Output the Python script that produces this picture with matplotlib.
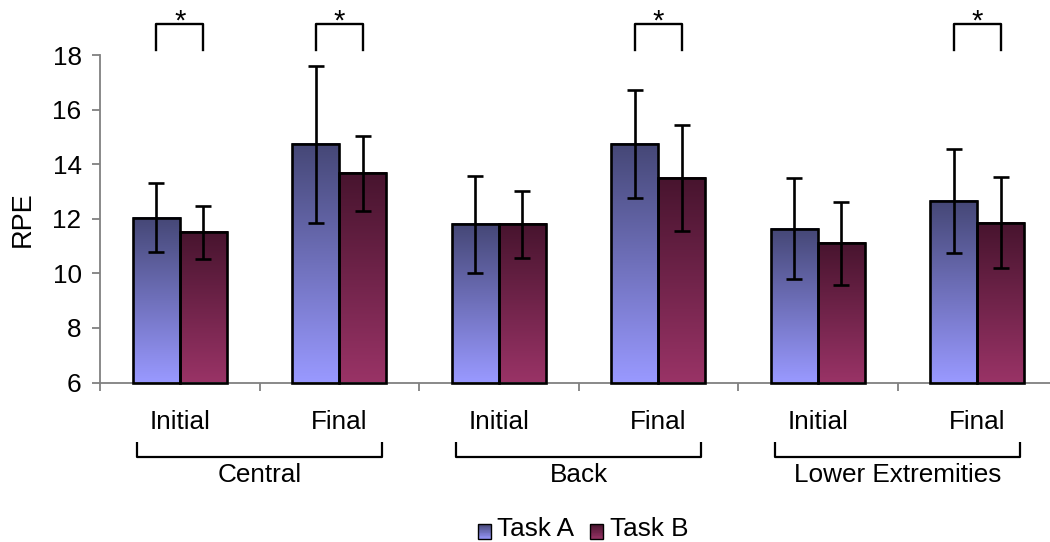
import numpy as np
import matplotlib
matplotlib.use("Agg")
import matplotlib.pyplot as plt
from matplotlib.patches import Rectangle
from matplotlib.legend_handler import HandlerBase
from matplotlib.colors import to_rgb

# ---- data -------------------------------------------------------------
regions = ["Central", "Back", "Lower Extremities"]
phases = ["Initial", "Final", "Initial", "Final", "Initial", "Final"]
series_names = ["Task A", "Task B"]
task_a = [12.04, 14.73, 11.79, 14.74, 11.64, 12.65]
task_a_err = [1.27, 2.88, 1.78, 1.97, 1.86, 1.89]
task_b = [11.50, 13.66, 11.79, 13.50, 11.11, 11.86]
task_b_err = [0.96, 1.36, 1.23, 1.94, 1.52, 1.66]
significant = [True, True, False, True, False, True]
yticks = [6, 8, 10, 12, 14, 16, 18]

# ---- style ------------------------------------------------------------
plt.rcParams['font.family'] = ['Liberation Sans', 'DejaVu Sans']
FS = 18.8
AXIS_GRAY = '#808080'
grad_colors = {"Task A": ("#454776", "#9999ff"),   # (top, bottom)
               "Task B": ("#47142e", "#993366")}


def gradient(top, bottom, n=256):
    t = np.linspace(0, 1, n)[:, None]
    c0 = np.array(to_rgb(bottom))
    c1 = np.array(to_rgb(top))
    return (c0 + (c1 - c0) * t)[:, None, :]


class GradientHandler(HandlerBase):
    def __init__(self, top, bottom, n=20):
        super().__init__()
        self.top, self.bottom, self.n = top, bottom, n

    def create_artists(self, legend, orig_handle, xdescent, ydescent,
                       width, height, fontsize, trans):
        c_top = np.array(to_rgb(self.top))
        c_bot = np.array(to_rgb(self.bottom))
        y0 = -ydescent - 0.35 * height
        arts = []
        for k in range(self.n):
            t = (k + 0.5) / self.n
            arts.append(Rectangle((-xdescent, y0 + height * k / self.n), width,
                                  height / self.n * 1.05,
                                  facecolor=c_bot + (c_top - c_bot) * t,
                                  edgecolor='none', transform=trans))
        arts.append(Rectangle((-xdescent, y0), width, height, facecolor='none',
                              edgecolor='black', lw=1.0, transform=trans))
        return arts


fig = plt.figure(figsize=(10.5, 5.42), dpi=100)
ax = fig.add_axes([100 / 1050, 159.5 / 542, 957 / 1050, 327.5 / 542])

x = np.arange(len(task_a))
w = 0.295
base = yticks[0]

series = [(task_a, task_a_err, -w / 2, "Task A"),
          (task_b, task_b_err, w / 2, "Task B")]
handles = []
for vals, errs, off, name in series:
    vals = np.asarray(vals)
    bars = ax.bar(x + off, vals - base, bottom=base, width=w,
                  facecolor='none', edgecolor='black', linewidth=1.9,
                  zorder=3, clip_on=False, label=name)
    handles.append(bars)
    top, bottom = grad_colors[name]
    for p in bars.patches:
        bx, by = p.get_x(), p.get_y()
        ax.imshow(gradient(top, bottom),
                  extent=[bx, bx + p.get_width(), by, by + p.get_height()],
                  origin='lower', aspect='auto', interpolation='bilinear',
                  zorder=2)
    ax.errorbar(x + off, vals, yerr=errs, fmt='none', ecolor='black',
                elinewidth=1.9, capsize=5.5, capthick=1.9, zorder=4)

ax.set_xlim(-0.5, 5.5)
ax.set_ylim(6, 18)
ax.set_yticks(yticks)
ax.set_xticks(np.arange(-0.5, 6.0, 1.0))
ax.set_xticklabels([])
for s in ['top', 'right']:
    ax.spines[s].set_visible(False)
for s in ['left', 'bottom']:
    ax.spines[s].set_color(AXIS_GRAY)
    ax.spines[s].set_linewidth(1.3)
ax.tick_params(axis='both', direction='out', color=AXIS_GRAY, width=1.3,
               length=5.8)
ax.tick_params(axis='y', labelsize=FS, pad=7.5)
ax.set_ylabel("RPE", fontsize=19.5)
ax.yaxis.set_label_coords(-0.067, 0.5)

# phase labels under each category
for i in x:
    ax.text(i, 4.55, phases[i], ha='center', va='center', fontsize=FS,
            clip_on=False)

# region brackets
inset = 0.23
for g, reg in enumerate(regions):
    x0 = 2 * g - 0.5 + inset
    x1 = 2 * g + 1.5 - inset
    ax.plot([x0, x0, x1, x1], [3.82, 3.27, 3.27, 3.82], color='black',
            lw=1.6, clip_on=False, solid_capstyle='butt')
    ax.text(2 * g + 0.5, 2.62, reg, ha='center', va='center', fontsize=FS,
            clip_on=False)

# significance markers
for i, sig in enumerate(significant):
    if not sig:
        continue
    xa, xb = i - w / 2, i + w / 2
    ax.plot([xa, xa, xb, xb], [18.2, 19.14, 19.14, 18.2], color='black',
            lw=1.7, clip_on=False)
    ax.text(i, 18.93, '*', ha='center', va='baseline', fontsize=21,
            clip_on=False)

fig.legend(handles, series_names, loc='center',
           bbox_to_anchor=(583 / 1050, 13 / 542), ncol=2, frameon=False,
           fontsize=FS, handlelength=0.5, handleheight=0.5,
           handletextpad=0.25, columnspacing=0.6, borderpad=0,
           handler_map={handles[0]: GradientHandler(*grad_colors["Task A"]),
                        handles[1]: GradientHandler(*grad_colors["Task B"])})

fig.savefig("out.png", dpi=100)
